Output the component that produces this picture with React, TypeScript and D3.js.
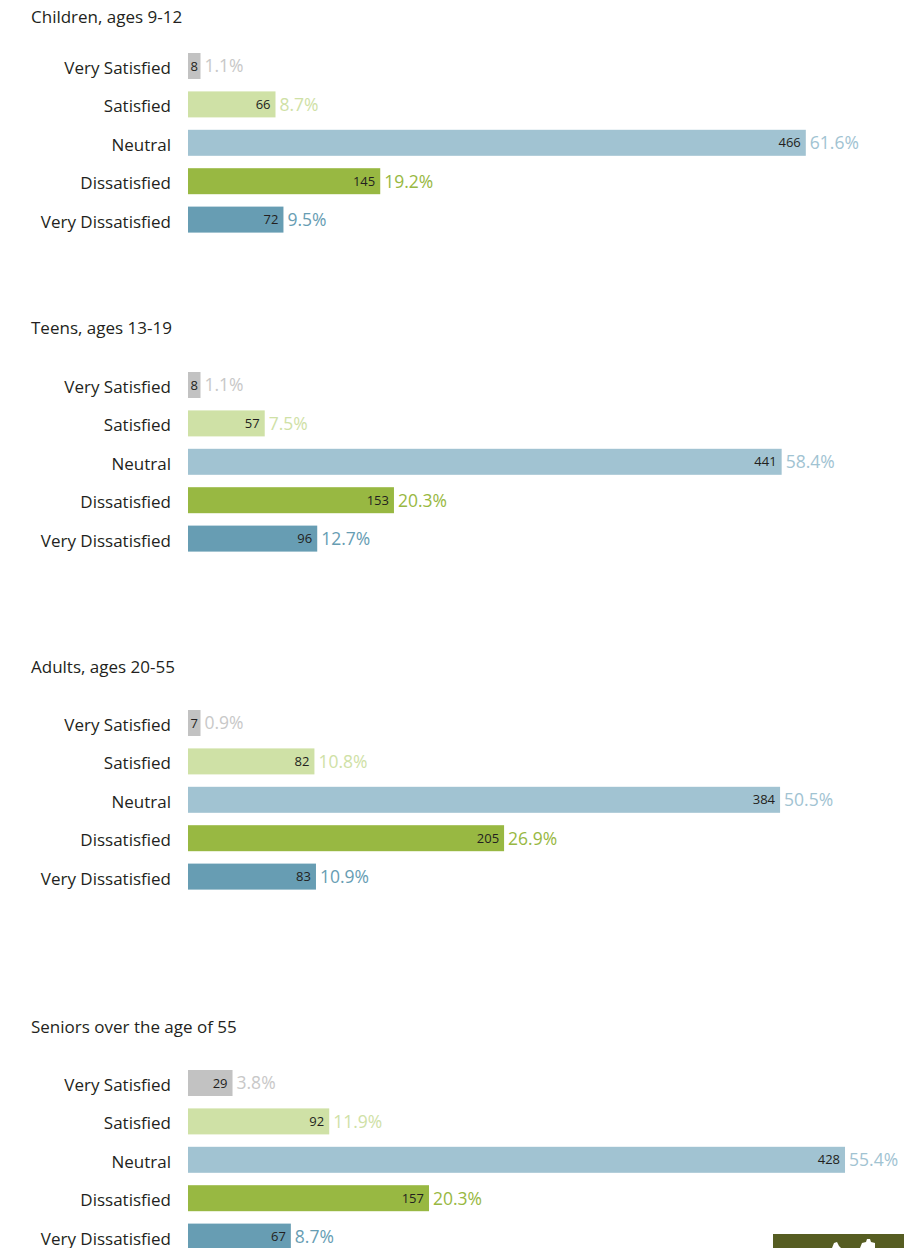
import React, { useEffect } from "react";
import * as d3 from "d3";

// ---- Data ----
const categories = ["Very Satisfied", "Satisfied", "Neutral", "Dissatisfied", "Very Dissatisfied"];
const groupTitles = ["Children, ages 9-12", "Teens, ages 13-19", "Adults, ages 20-55", "Seniors over the age of 55"];

const childrenCounts = [8, 66, 466, 145, 72];
const childrenPct = [1.1, 8.7, 61.6, 19.2, 9.5];
const teensCounts = [8, 57, 441, 153, 96];
const teensPct = [1.1, 7.5, 58.4, 20.3, 12.7];
const adultsCounts = [7, 82, 384, 205, 83];
const adultsPct = [0.9, 10.8, 50.5, 26.9, 10.9];
const seniorsCounts = [29, 92, 428, 157, 67];
const seniorsPct = [3.8, 11.9, 55.4, 20.3, 8.7];

// per-panel scale maxima (each panel scaled independently)
const scaleMax = [528, 520, 454, 456];

// ---- Style / layout ----
const barColors = ["#c2c2c2", "#cfe1a6", "#a1c3d2", "#98b842", "#679db3"];
const pctColors = ["#c8c8c8", "#cfe1a6", "#a1c3d2", "#98b842", "#679db3"];
const titleY = [17, 328, 667, 1027];
const barTop = [53, 372, 710, 1070];
const BAR_X = 188;
const BAR_RANGE = 700;
const BAR_H = 26;
const STEP = 38.4;
const FONT = "'Open Sans', 'Noto Sans', sans-serif";
const TEXT = "#231f20";

const panels = [
  { counts: childrenCounts, pct: childrenPct },
  { counts: teensCounts, pct: teensPct },
  { counts: adultsCounts, pct: adultsPct },
  { counts: seniorsCounts, pct: seniorsPct },
];

export default function App() {
  useEffect(() => {
    document.body.style.margin = "0";
  }, []);

  return (
    <svg width={922} height={1248} style={{ display: "block", background: "#fff" }} fontFamily={FONT}>
      {panels.map((p, pi) => {
        const x = d3.scaleLinear().domain([0, scaleMax[pi]]).range([0, BAR_RANGE]);
        const y = d3
          .scaleBand<string>()
          .domain(categories)
          .range([barTop[pi], barTop[pi] + STEP * (categories.length - 1) + BAR_H])
          .paddingInner(1 - BAR_H / STEP)
          .paddingOuter(0)
          .align(0);
        return (
          <g key={pi}>
            <text x={31} y={titleY[pi]} dy="0.35em" fontSize={17} fill={TEXT}>
              {groupTitles[pi]}
            </text>
            {categories.map((c, ci) => {
              const w = Math.max(x(p.counts[ci]), 12.5);
              const yt = y(c) as number;
              const h = y.bandwidth();
              const cy = yt + h / 2;
              const small = w < 22;
              return (
                <g key={c}>
                  <text x={171} y={cy + 8} textAnchor="end" fontSize={17} fill={TEXT}>
                    {c}
                  </text>
                  <text x={BAR_X + w + 4} y={cy} dy="0.36em" fontSize={17.5} fill={pctColors[ci]}>
                    {d3.format(".1f")(p.pct[ci]) + "%"}
                  </text>
                  <rect x={BAR_X} y={yt} width={w} height={h} fill={barColors[ci]} />
                  <text
                    x={small ? BAR_X + w / 2 : BAR_X + w - 5}
                    y={cy}
                    dy="0.36em"
                    textAnchor={small ? "middle" : "end"}
                    fontSize={13}
                    fill={TEXT}
                  >
                    {p.counts[ci]}
                  </text>
                </g>
              );
            })}
          </g>
        );
      })}
      <g>
        <rect x={773} y={1234} width={131} height={20} fill="#565d22" />
        <path d="M832,1248 L834,1243 L837,1242 L839,1246 L841,1248 Z" fill="#fff" />
        <path d="M860,1248 L862,1243 L866,1242 L867,1239 L870,1239 L871,1242 L875,1243 L875,1248 Z" fill="#fff" />
      </g>
    </svg>
  );
}
